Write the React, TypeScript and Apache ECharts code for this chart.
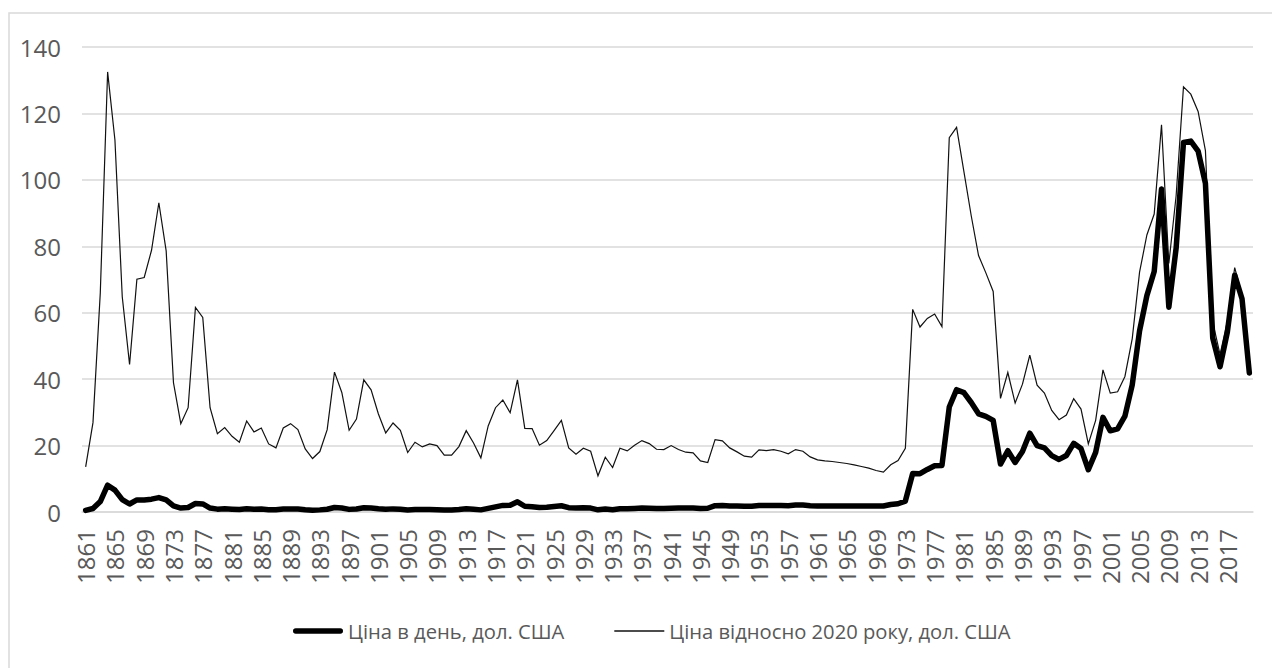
import React, { useEffect, useRef } from "react";
import * as echarts from "echarts";

const FIRST_YEAR = 1861;
const LAST_YEAR = 2020;
const years: string[] = [];
for (let y = FIRST_YEAR; y <= LAST_YEAR; y++) years.push(String(y));

const seriesNames = ["Ціна в день, дол. США", "Ціна відносно 2020 року, дол. США"];

// Price in money of the day, USD per barrel
const nominal = [
  0.49, 1.05, 3.15, 8.06, 6.59, 3.74, 2.41, 3.63, 3.64, 3.86,
  4.34, 3.64, 1.83, 1.17, 1.35, 2.56, 2.42, 1.19, 0.86, 0.95,
  0.86, 0.78, 1.0, 0.84, 0.88, 0.71, 0.67, 0.88, 0.94, 0.87,
  0.67, 0.56, 0.64, 0.84, 1.36, 1.18, 0.79, 0.91, 1.29, 1.19,
  0.96, 0.8, 0.94, 0.86, 0.62, 0.73, 0.72, 0.72, 0.7, 0.61,
  0.61, 0.74, 0.95, 0.81, 0.64, 1.1, 1.56, 1.98, 2.01, 3.07,
  1.73, 1.61, 1.34, 1.43, 1.68, 1.88, 1.3, 1.17, 1.27, 1.19,
  0.65, 0.87, 0.67, 1.0, 0.97, 1.09, 1.18, 1.13, 1.02, 1.02,
  1.14, 1.19, 1.2, 1.21, 1.05, 1.12, 1.9, 1.99, 1.8, 1.78,
  1.71, 1.71, 1.93, 1.93, 1.93, 1.93, 1.9, 2.08, 2.08, 1.9,
  1.8, 1.8, 1.8, 1.8, 1.8, 1.8, 1.8, 1.8, 1.8, 1.8,
  2.24, 2.48, 3.29, 11.58, 11.53, 12.8, 13.92, 14.02, 31.61, 36.83,
  35.93, 32.97, 29.55, 28.78, 27.56, 14.43, 18.44, 14.92, 18.23, 23.73,
  20.0, 19.32, 16.97, 15.82, 17.02, 20.67, 19.09, 12.72, 17.97, 28.5,
  24.44, 25.02, 28.83, 38.27, 54.52, 65.14, 72.39, 97.26, 61.67, 79.5,
  111.26, 111.67, 108.66, 98.95, 52.39, 43.73, 54.19, 71.31, 64.21, 41.84,
];

// Price in 2020 dollars, USD per barrel
const real2020 = [
  13.6, 26.9, 66.0, 132.5, 112.0, 64.8, 44.4, 70.1, 70.6, 78.8,
  93.1, 78.6, 38.9, 26.6, 31.4, 61.6, 58.6, 31.4, 23.6, 25.4,
  22.8, 21.0, 27.4, 24.1, 25.3, 20.5, 19.3, 25.3, 26.6, 24.8,
  19.0, 16.1, 18.2, 24.8, 42.1, 36.0, 24.6, 28.0, 39.8, 36.8,
  29.5, 23.8, 26.8, 24.6, 17.9, 21.0, 19.6, 20.5, 20.0, 17.1,
  17.1, 19.7, 24.5, 20.8, 16.3, 25.9, 31.4, 33.7, 29.9, 39.8,
  25.2, 25.1, 20.1, 21.5, 24.5, 27.6, 19.3, 17.4, 19.2, 18.3,
  10.9, 16.5, 13.4, 19.2, 18.4, 20.1, 21.5, 20.6, 18.9, 18.8,
  20.0, 18.8, 18.0, 17.8, 15.4, 14.9, 21.8, 21.4, 19.3, 18.1,
  16.8, 16.5, 18.7, 18.5, 18.8, 18.3, 17.5, 18.8, 18.3, 16.6,
  15.7, 15.4, 15.2, 14.9, 14.6, 14.2, 13.7, 13.2, 12.5, 12.0,
  14.2, 15.5, 19.2, 61.0, 55.7, 58.3, 59.6, 55.8, 112.7, 115.8,
  102.5, 89.2, 77.2, 72.0, 66.4, 34.2, 42.0, 32.8, 38.5, 47.2,
  38.2, 35.8, 30.6, 27.8, 29.2, 34.1, 31.0, 20.5, 27.6, 42.8,
  35.8, 36.2, 40.8, 52.2, 72.2, 83.4, 89.7, 116.6, 74.8, 95.3,
  128.0, 125.8, 120.6, 108.8, 57.2, 47.4, 57.5, 73.6, 65.3, 41.8,
];

const yTicks = { min: 0, max: 140, interval: 20 };

const FONT = "'Open Sans', 'Noto Sans', sans-serif";
const TEXT_COLOR = "#595959";
const GRID_COLOR = "#d9d9d9";

const THICK_ICON =
  "path://M2.75,0 L47.25,0 A2.75,2.75 0 0 1 47.25,5.5 L2.75,5.5 A2.75,2.75 0 0 1 2.75,0 Z";
const THIN_ICON = "path://M0,0 L50,0 L50,1.3 L0,1.3 Z";

export default function App() {
  const ref = useRef<HTMLDivElement>(null);

  useEffect(() => {
    if (!ref.current) return;
    const chart = echarts.init(ref.current, undefined, { renderer: "svg" });
    chart.setOption({
      animation: false,
      backgroundColor: "#ffffff",
      textStyle: { fontFamily: FONT },
      graphic: [
        {
          type: "rect",
          shape: { x: 9, y: 13, width: 1400, height: 800 },
          style: { fill: "none", stroke: GRID_COLOR, lineWidth: 1.5 },
          silent: true,
          z: -10,
        },
      ],
      grid: { left: 82, right: 19, top: 47, bottom: 156, containLabel: false },
      legend: {
        left: 288,
        top: 616,
        itemWidth: 50,
        itemHeight: 14,
        itemGap: 50,
        symbolKeepAspect: true,
        textStyle: { fontSize: 20.2, color: TEXT_COLOR, fontFamily: FONT },
        data: [
          {
            name: seriesNames[0],
            icon: THICK_ICON,
            itemStyle: { color: "#000" },
          },
          {
            name: seriesNames[1],
            icon: THIN_ICON,
            itemStyle: { color: "#111" },
          },
        ],
      },
      xAxis: {
        type: "category",
        data: years,
        boundaryGap: true,
        axisLine: { show: true, lineStyle: { color: GRID_COLOR, width: 1.5 } },
        axisTick: { show: false },
        axisLabel: {
          interval: 3,
          rotate: 90,
          margin: 17,
          fontSize: 24,
          color: TEXT_COLOR,
          fontFamily: FONT,
        },
        splitLine: { show: false },
      },
      yAxis: {
        type: "value",
        min: yTicks.min,
        max: yTicks.max,
        interval: yTicks.interval,
        axisLine: { show: false },
        axisTick: { show: false },
        axisLabel: { margin: 21, fontSize: 24, color: TEXT_COLOR, fontFamily: FONT },
        splitLine: { lineStyle: { color: GRID_COLOR, width: 1.5 } },
      },
      series: [
        {
          name: seriesNames[0],
          type: "line",
          data: nominal,
          symbol: "none",
          z: 3,
          itemStyle: { color: "#000" },
          lineStyle: { color: "#000", width: 5.5, join: "round", cap: "round" },
        },
        {
          name: seriesNames[1],
          type: "line",
          data: real2020,
          symbol: "none",
          z: 2,
          itemStyle: { color: "#111" },
          lineStyle: { color: "#111", width: 1.2, join: "miter" },
        },
      ],
    });
    return () => chart.dispose();
  }, []);

  return (
    <div
      ref={ref}
      style={{ position: "absolute", left: 0, top: 0, width: 1272, height: 668 }}
    />
  );
}
